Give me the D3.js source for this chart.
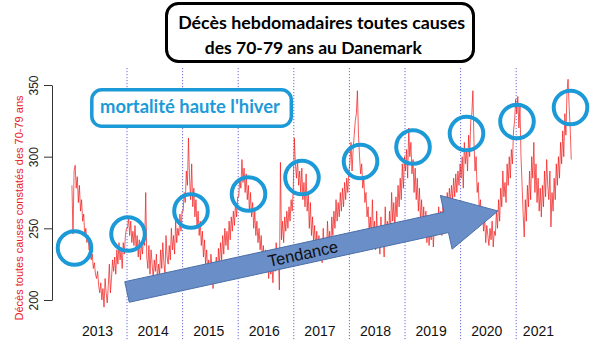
<!DOCTYPE html>
<html><head><meta charset="utf-8">
<script src="https://cdn.jsdelivr.net/npm/d3@7"></script>
<style>html,body{margin:0;padding:0;background:#fff;} svg{display:block;}</style>
</head><body>
<svg id="chart" width="602" height="359"></svg>
<script>
// ---- data (weekly deaths, 70-79 y, Denmark) ----
const years = [2013, 2014, 2015, 2016, 2017, 2018, 2019, 2020, 2021];
const deaths2013 = [280,246,290,294,278,286,268,280,262,270, 255,260,245,250,240,245,235,238,228,232, 222,226,218,215,220,210,205,212,200,208, 195,215,205,198,210,225,205,215,228,220, 230,218,235,225,240,228,235,222,240,232, 245,250];
const deaths2014 = [250,258,245,255,240,248,238,252,235,245, 230,242,228,240,232,245,238,275,230,222, 238,218,235,225,215,228,220,232,214,225, 218,235,222,240,226,218,245,230,225,238, 228,250,235,245,232,255,240,250,245,260, 248,262];
const deaths2015 = [262,275,268,290,280,313,285,270,295,265, 278,258,270,250,262,245,255,238,248,230, 242,225,235,220,228,215,232,222,208,225, 218,230,212,236,225,240,228,245,232,250, 238,248,235,255,242,258,248,262,252,268, 258,272];
const deaths2016 = [272,285,278,298,282,292,275,288,270,280, 262,275,258,268,250,262,245,255,240,250, 235,245,228,238,225,235,220,230,215,228, 218,225,212,232,220,240,228,236,207,296, 242,255,240,258,248,262,250,265,255,270, 262,278];
const deaths2017 = [313,295,285,298,280,290,275,292,270,282, 265,288,262,275,250,268,245,258,240,252, 235,248,232,245,228,240,226,250,235,242, 230,255,238,248,232,258,245,262,250,270, 255,268,258,275,262,278,265,282,270,285, 275,290];
const deaths2018 = [295,310,290,305,315,325,330,346,315,300, 288,295,278,285,268,275,258,265,248,258, 240,270,245,255,235,262,240,250,232,258, 238,248,230,265,242,255,238,262,248,275, 255,268,250,272,258,280,265,285,270,295, 278,300];
const deaths2019 = [290,305,285,320,300,310,288,298,275,292, 270,285,262,278,255,270,250,265,245,262, 240,255,238,250,242,258,237,252,245,260, 248,265,250,262,245,268,255,272,260,275, 262,278,268,280,270,285,272,288,275,290, 280,295];
const deaths2020 = [285,300,278,310,295,305,290,315,300,325, 330,346,310,290,300,275,282,262,270,255, 262,248,258,240,252,245,238,250,242,255, 237,248,245,262,250,270,255,278,265,290, 272,282,268,295,280,300,285,305,295,318, 325,340];
const deaths2021 = [330,342,320,335,300,280,260,244,270,255, 280,265,290,270,300,285,310,275,295,268, 285,262,278,258,280,265,290,272,298,280, 270,290,251,275,262,285,270,295,280,300, 285,310,295,318,300,330,315,345,354,335, 320,298];

const yearStarts = [2014, 2015, 2016, 2017, 2018, 2019, 2020, 2021];
const yearLabels = ["2013","2014","2015","2016","2017","2018","2019","2020","2021"];
const yearLabelPos = [2013.47, 2014.47, 2015.47, 2016.47, 2017.47, 2018.47, 2019.47, 2020.47, 2021.4];
const yTicks = [200, 250, 300, 350];

// annotations (decimal year, deaths)
const winterPeakYears  = [2013.056, 2014.018, 2015.151, 2016.185, 2017.147, 2018.200, 2019.144, 2020.106, 2021.014, 2021.977];
const winterPeakValues = [236.3, 246.0, 262.1, 274.0, 285.5, 296.6, 306.7, 316.2, 324.5, 334.3];
const trendFrom = [2014.0, 205.6];
const trendTo   = [2020.673, 262.1];

// ---- build series ----
const byYear = [deaths2013, deaths2014, deaths2015, deaths2016, deaths2017, deaths2018, deaths2019, deaths2020, deaths2021];
const series = [];
byYear.forEach((arr, yi) => arr.forEach((v, w) => series.push({t: years[yi] + (w + 0.5) / arr.length, v})));

const svg = d3.select("#chart");
const FONT = "'Liberation Sans', Arial, sans-serif";
const BLUE = "#1c9ad8";

const x = d3.scaleLinear().domain([2013, 2022]).range([71.4, 571.8]);
const y = d3.scaleLinear().domain([200, 350]).range([300, 85]);

// dotted year separators
svg.append("g").selectAll("line").data(yearStarts).join("line")
  .attr("x1", d => x(d)).attr("x2", d => x(d))
  .attr("y1", 68).attr("y2", 341)
  .attr("stroke", "#6a6ad6").attr("stroke-width", 1)
  .attr("stroke-dasharray", "1.2,1.8");

// data line
svg.append("path").datum(series)
  .attr("fill", "none").attr("stroke", "#f01c1c").attr("stroke-width", 0.9)
  .attr("stroke-opacity", 0.8).attr("stroke-linejoin", "round")
  .attr("d", d3.line().x(d => x(d.t)).y(d => y(d.v)));

// y axis (R style)
const ya = svg.append("g").attr("transform", "translate(52,0)")
  .call(d3.axisLeft(y).tickValues(yTicks).tickSize(8).tickSizeOuter(0));
ya.selectAll("path,line").attr("stroke", "#333");
ya.selectAll("text")
  .attr("transform", "rotate(-90)").attr("x", 0).attr("y", -14.5).attr("dy", 0)
  .attr("text-anchor", "middle").attr("font-family", FONT).attr("font-size", 12).attr("fill", "#222");

svg.append("text")
  .attr("transform", "translate(22.5,208) rotate(-90)")
  .attr("text-anchor", "middle").attr("font-family", FONT).attr("font-size", 11)
  .attr("fill", "#e8211f").text("Décès toutes causes constatés des 70-79 ans");

// x labels
svg.append("g").selectAll("text").data(yearLabels).join("text")
  .attr("x", (d, i) => x(yearLabelPos[i])).attr("y", 336)
  .attr("text-anchor", "middle").attr("font-family", FONT).attr("font-size", 14)
  .attr("fill", "#111").text(d => d);

// trend arrow
const p0 = [x(trendFrom[0]), y(trendFrom[1])], p1 = [x(trendTo[0]), y(trendTo[1])];
const dx = p1[0] - p0[0], dy = p1[1] - p0[1], L = Math.hypot(dx, dy);
const ux = dx / L, uy = dy / L, nx = -uy, ny = ux;
const hw = 10.5, hh = 27.5, hl = 53;
const bx = p1[0] - ux * hl, by = p1[1] - uy * hl;
const pts = [
  [p0[0] + nx * hw, p0[1] + ny * hw], [bx + nx * hw, by + ny * hw], [bx + nx * hh, by + ny * hh],
  p1,
  [bx - nx * hh, by - ny * hh], [bx - nx * hw, by - ny * hw], [p0[0] - nx * hw, p0[1] - ny * hw]
];
svg.append("path").attr("d", "M" + pts.map(p => p.join(",")).join("L") + "Z")
  .attr("fill", "#6a8ec8").attr("stroke", "#4b6fa8").attr("stroke-width", 1);
const ang = Math.atan2(dy, dx) * 180 / Math.PI;
const tt = 0.474;
svg.append("text")
  .attr("transform", `translate(${p0[0] + ux * L * tt},${p0[1] + uy * L * tt}) rotate(${ang})`)
  .attr("text-anchor", "middle").attr("dy", "0.36em")
  .attr("font-family", FONT).attr("font-size", 16.5).attr("fill", "#111").text("Tendance");

// winter circles
svg.append("g").selectAll("circle").data(winterPeakYears).join("circle")
  .attr("cx", d => x(d)).attr("cy", (d, i) => y(winterPeakValues[i])).attr("r", 16.8)
  .attr("fill", "none").attr("stroke", BLUE).attr("stroke-width", 4);

function fitText(sel, width) {
  sel.attr("font-size", 20);
  const w = sel.node().getComputedTextLength();
  sel.attr("font-size", 20 * width / w);
}

// title box
svg.append("rect").attr("x", 166.5).attr("y", 3.5).attr("width", 307).attr("height", 58)
  .attr("rx", 12).attr("fill", "#fff").attr("stroke", "#000").attr("stroke-width", 3);
const t1 = svg.append("text").attr("x", 321.6).attr("y", 29).attr("text-anchor", "middle")
  .attr("font-family", "Lato, 'Open Sans', sans-serif").attr("font-weight", "bold").attr("fill", "#000")
  .text("Décès hebdomadaires toutes causes");
fitText(t1, 287);
const t2 = svg.append("text").attr("x", 313.3).attr("y", 53.5).attr("text-anchor", "middle")
  .attr("font-family", "Lato, 'Open Sans', sans-serif").attr("font-weight", "bold").attr("fill", "#000")
  .text("des 70-79 ans au Danemark");
fitText(t2, 217);

// winter label box
svg.append("rect").attr("x", 91.8).attr("y", 89.8).attr("width", 199.5).attr("height", 36.5)
  .attr("rx", 10).attr("fill", "#fff").attr("stroke", BLUE).attr("stroke-width", 3.5);
const t3 = svg.append("text").attr("x", 190).attr("y", 112.5).attr("text-anchor", "middle")
  .attr("font-family", "Lato, 'Open Sans', sans-serif").attr("font-weight", "bold").attr("fill", BLUE)
  .text("mortalité haute l'hiver");
fitText(t3, 180);
</script>
</body></html>
